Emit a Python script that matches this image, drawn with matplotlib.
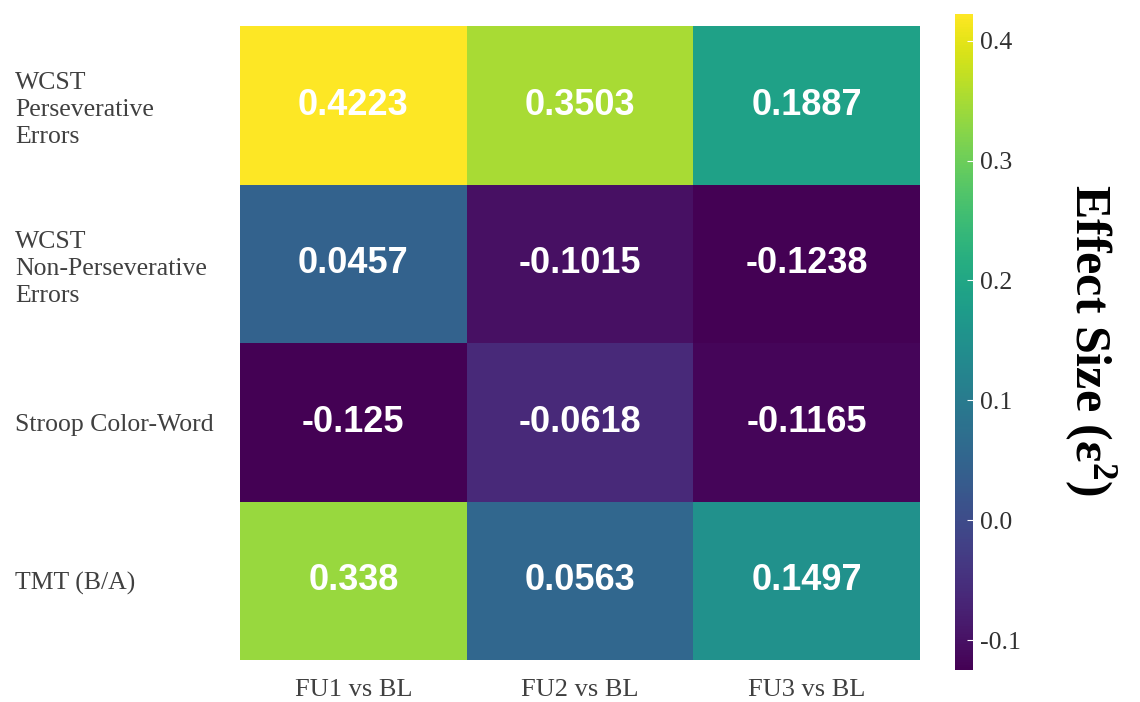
import numpy as np
import matplotlib
matplotlib.use("Agg")
import matplotlib.pyplot as plt

plt.rcParams["axes.unicode_minus"] = False

comparisons = ["FU1 vs BL", "FU2 vs BL", "FU3 vs BL"]
measures = [
    "WCST\nPerseverative\nErrors",
    "WCST\nNon-Perseverative\nErrors",
    "Stroop Color-Word",
    "TMT (B/A)",
]
wcst_pe = [0.4223, 0.3503, 0.1887]
wcst_npe = [0.0457, -0.1015, -0.1238]
stroop_cw = [-0.125, -0.0618, -0.1165]
tmt_ratio = [0.338, 0.0563, 0.1497]

effect = np.array([wcst_pe, wcst_npe, stroop_cw, tmt_ratio])

W, H = 1140, 702
fig = plt.figure(figsize=(W / 100, H / 100), dpi=100)
ax = fig.add_axes([240 / W, 1 - 660 / H, 680 / W, 634 / H])
cax = fig.add_axes([955 / W, 1 - 670 / H, 18 / W, 656 / H])

serif = "Liberation Serif"
label_color = "#404040"

mesh = ax.pcolormesh(effect, cmap="viridis",
                     vmin=effect.min(), vmax=effect.max())
ax.set_xlim(0, effect.shape[1])
ax.set_ylim(effect.shape[0], 0)

for i in range(effect.shape[0]):
    for j in range(effect.shape[1]):
        ax.text(j + 0.5, i + 0.5, f"{effect[i, j]:g}", ha="center", va="center",
                color="white", fontsize=26, fontweight="bold",
                family="Liberation Sans")

ax.set_xticks(np.arange(effect.shape[1]) + 0.5)
ax.set_xticklabels(comparisons, family=serif, fontsize=19, color=label_color)
ax.set_yticks(np.arange(effect.shape[0]) + 0.5)
ax.set_yticklabels(measures, family=serif, fontsize=18.5, color=label_color,
                   ha="left", linespacing=1.3)
ax.tick_params(axis="x", length=0, pad=14)
ax.tick_params(axis="y", length=0, pad=162)
for s in ax.spines.values():
    s.set_visible(False)

cb = fig.colorbar(mesh, cax=cax)
cb.outline.set_visible(False)
cb.set_ticks([-0.1, 0.0, 0.1, 0.2, 0.3, 0.4])
cb.set_ticklabels(["-0.1", "0.0", "0.1", "0.2", "0.3", "0.4"])
cax.tick_params(length=4, width=0.8, color="white", direction="in",
                labelsize=18.5, labelcolor="#303030", pad=5)
for t in cax.get_yticklabels():
    t.set_family(serif)

fig.text(1090 / W, 1 - 340 / H, r"Effect Size ($\mathregular{\varepsilon^2}$)",
         rotation=270, ha="center", va="center", family=serif,
         fontsize=36, fontweight="bold", color="black")

fig.savefig("out.png", dpi=100)
